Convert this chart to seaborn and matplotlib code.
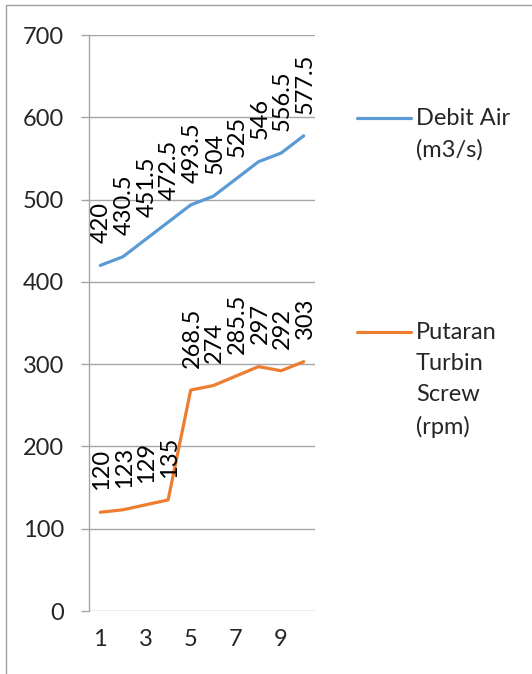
import matplotlib

matplotlib.use("Agg", force=True)
import matplotlib.pyplot as plt
import pandas as pd
import seaborn as sns
from matplotlib.lines import Line2D
from matplotlib.patches import Rectangle

# data
step = [1, 2, 3, 4, 5, 6, 7, 8, 9, 10]
debit_air = [420, 430.5, 451.5, 472.5, 493.5, 504, 525, 546, 556.5, 577.5]
putaran = [120, 123, 129, 135, 268.5, 274, 285.5, 297, 292, 303]
series_names = ["Debit Air\n(m3/s)", "Putaran\nTurbin\nScrew\n(rpm)"]
y_ticks = [0, 100, 200, 300, 400, 500, 600, 700]
x_ticks = [1, 3, 5, 7, 9]

colors = ["#5B9BD5", "#ED7D31"]
grid_color = "#a6a6a6"
W, H = 532, 674
FS = 17

sns.set_style("white")
plt.rcParams["font.family"] = ["Lato", "DejaVu Sans"]

df = pd.concat(
    [
        pd.DataFrame({"step": step, "value": debit_air, "series": series_names[0]}),
        pd.DataFrame({"step": step, "value": putaran, "series": series_names[1]}),
    ],
    ignore_index=True,
)

fig = plt.figure(figsize=(W / 100, H / 100), dpi=100)
ax = fig.add_axes([89 / W, 1 - 611 / H, 226 / W, 576 / H])

sns.lineplot(
    data=df, x="step", y="value", hue="series", palette=colors,
    linewidth=2.3, ax=ax, legend=False,
)

for name in series_names:
    sub = df[df["series"] == name]
    for x, y in zip(sub["step"], sub["value"]):
        label = f"{y:g}"
        ax.annotate(label, (x, y), xytext=(1, 16), textcoords="offset points",
                    rotation=90, ha="center", va="bottom", fontsize=FS, color="black")

ax.set_xlim(0.5, 10.5)
ax.set_ylim(0, 700)
ax.set_xticks(x_ticks)
ax.set_yticks(y_ticks)
ax.set_xlabel("")
ax.set_ylabel("")
ax.grid(axis="y", color=grid_color, linewidth=1)
ax.grid(axis="x", visible=False)
ax.set_axisbelow(True)
for side in ["top", "right", "bottom"]:
    ax.spines[side].set_visible(False)
ax.spines["left"].set_color(grid_color)
ax.spines["left"].set_linewidth(1)
ax.tick_params(axis="y", length=5.8, width=1, color=grid_color, pad=12, labelsize=FS, left=True)
ax.tick_params(axis="x", length=0, pad=13, labelsize=FS)

# legend drawn at the right, handle aligned with the first text line
legend_y = [118, 332]
for name, color, ly in zip(series_names, colors, legend_y):
    fig.add_artist(Line2D([357 / W, 411 / W], [1 - ly / H, 1 - ly / H],
                          color=color, linewidth=2.3, transform=fig.transFigure))
    fig.text(416 / W, 1 - (ly - 10) / H, name, fontsize=FS, va="top", ha="left",
             linespacing=1.6)

# chart border (cut at right and bottom like the reference)
fig.add_artist(Rectangle((6 / W, -0.1), 1.2, 1.1 - 5 / H, transform=fig.transFigure,
                         fill=False, edgecolor="#a0a0a0", linewidth=1))

fig.savefig("out.png", dpi=100)
plt.close(fig)
